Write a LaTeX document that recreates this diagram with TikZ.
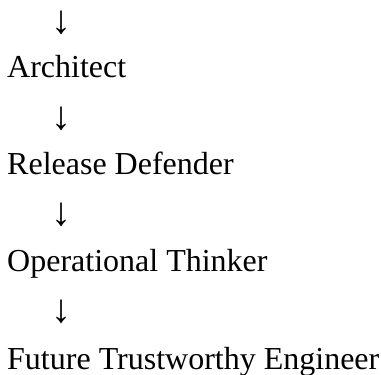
\documentclass[tikz,border=0pt]{standalone}
\usepackage{fontspec}
\setmainfont{Liberation Serif}
\usepackage{tikz}
\usetikzlibrary{positioning}

\begin{document}
\begin{tikzpicture}[x=1pt, y=-1pt, every node/.style={inner sep=0pt, font=\fontsize{32}{38}\selectfont}, stage/.style={anchor=base west}, flow/.style={anchor=base, font=\fontsize{40}{46}\selectfont}]
	\useasboundingbox (0,0) rectangle (381,375);
	% path
	\node[flow] (arr0) at (62,33) {↓};
	\node[stage] (arch) at (7,77) {Architect};
	\node[flow] (arr1) at (62,129) {↓};
	\node[stage] (rel) at (7,174) {Release Defender};
	\node[flow] (arr2) at (62,225) {↓};
	\node[stage] (ops) at (7,271) {Operational Thinker};
	\node[flow] (arr3) at (62,322) {↓};
	\node[stage] (fut) at (7,369) {Future Trustworthy Engineer};
\end{tikzpicture}
\end{document}
